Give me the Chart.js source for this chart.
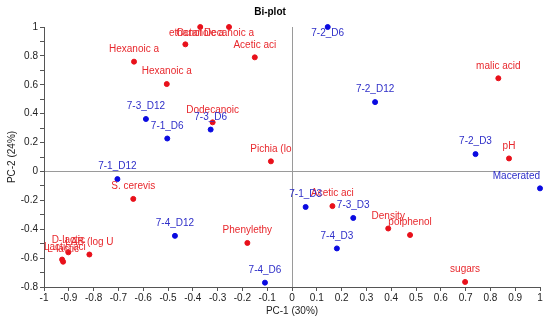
<!DOCTYPE html>
<html><head><meta charset="utf-8">
<script src="https://cdn.jsdelivr.net/npm/chart.js@4"></script>
<style>html,body{margin:0;padding:0;background:#fff}#c{display:block}</style>
</head><body>
<canvas id="c" width="550" height="321"></canvas>
<script>
// Variables (red)
const varLabels = ["Octanoic a","Decanoic a","ethanol","Hexanoic a","Hexanoic a","Acetic aci","Dodecanoic","Pichia (lo","malic acid","pH","S. cerevis","Phenylethy","D-lactic","LAB (log U","Lactic aci","L-lactic","Acetic aci","Density","polphenol","sugars"];
const varX = [-0.37,-0.254,-0.43,-0.637,-0.505,-0.15,-0.32,-0.085,0.832,0.875,-0.64,-0.18,-0.902,-0.817,-0.927,-0.923,0.163,0.388,0.476,0.698];
const varY = [1.0,1.0,0.88,0.76,0.605,0.79,0.34,0.07,0.645,0.09,-0.19,-0.495,-0.56,-0.575,-0.61,-0.625,-0.24,-0.395,-0.44,-0.765];
// Observations (blue)
const obsLabels = ["7-2_D6","7-2_D12","7-2_D3","7-3_D12","7-1_D6","7-3_D6","7-1_D12","7-4_D12","7-4_D6","7-1_D3","7-3_D3","7-4_D3","Macerated"];
const obsX = [0.144,0.335,0.74,-0.589,-0.503,-0.328,-0.704,-0.472,-0.109,0.055,0.247,0.181,1.0];
const obsY = [1.0,0.48,0.12,0.363,0.228,0.29,-0.053,-0.446,-0.77,-0.246,-0.322,-0.533,-0.117];

const toPts = (xs, ys) => xs.map((x, i) => ({x, y: ys[i]}));

const labelPlugin = {
  id: 'pointLabels',
  afterDatasetsDraw(chart) {
    const ctx = chart.ctx, a = chart.chartArea;
    ctx.save();
    ctx.font = '10px "Liberation Sans", Arial, sans-serif';
    ctx.textAlign = 'center';
    ctx.textBaseline = 'middle';
    chart.data.datasets.forEach((ds, di) => {
      const meta = chart.getDatasetMeta(di);
      ctx.fillStyle = ds.textColor;
      meta.data.forEach((el, i) => {
        const t = ds.names[i];
        const w = ctx.measureText(t).width;
        let x = Math.min(Math.max(el.x, a.left + w / 2), a.right - w / 2);
        let y = Math.max(el.y - 12.5, a.top + 6);
        ctx.fillText(t, x, y);
      });
    });
    ctx.restore();
  }
};

const fontF = '"Liberation Sans", Arial, sans-serif';
new Chart(document.getElementById('c'), {
  type: 'scatter',
  data: {
    datasets: [
      {names: varLabels, textColor: '#e8282d', data: toPts(varX, varY), backgroundColor: '#e8101a', borderColor: '#e8101a', pointRadius: 2.5, clip: false},
      {names: obsLabels, textColor: '#2e2ec8', data: toPts(obsX, obsY), backgroundColor: '#0a0ae0', borderColor: '#0a0ae0', pointRadius: 2.5, clip: false}
    ]
  },
  options: {
    responsive: false,
    animation: false,
    layout: {padding: {left: 0, right: 10, top: 0, bottom: 0}},
    plugins: {
      legend: {display: false},
      tooltip: {enabled: false},
      title: {display: true, text: 'Bi-plot', color: '#000', font: {family: fontF, size: 10, weight: 'bold'}, padding: {top: 6, bottom: 9}}
    },
    scales: {
      x: {
        type: 'linear', min: -1, max: 1,
        afterFit(s) { s.height = 34; },
        ticks: {stepSize: 0.1, color: '#222', font: {family: fontF, size: 10}, padding: 1, maxRotation: 0, autoSkip: false,
          callback: v => String(Math.round(v * 10) / 10)},
        grid: {drawOnChartArea: true, drawTicks: true, tickLength: 4,
          color: c => (c.tick && Math.abs(c.tick.value) < 1e-9) ? '#9a9a9a' : 'rgba(0,0,0,0)',
          tickColor: '#555'},
        border: {display: true, color: '#555'},
        title: {display: true, text: 'PC-1 (30%)', color: '#222', font: {family: fontF, size: 10}, padding: {top: 0, bottom: 4}}
      },
      y: {
        type: 'linear', min: -0.8, max: 1,
        afterFit(s) { s.width = 44; },
        ticks: {stepSize: 0.1, color: '#222', font: {family: fontF, size: 10}, padding: 2, autoSkip: false,
          callback: v => { const k = Math.round(v * 10); return k % 2 === 0 ? String(k / 10) : ''; }},
        grid: {drawOnChartArea: true, drawTicks: true, tickLength: 4,
          color: c => (c.tick && Math.abs(c.tick.value) < 1e-9) ? '#9a9a9a' : 'rgba(0,0,0,0)',
          tickColor: '#555'},
        border: {display: true, color: '#555'},
        title: {display: true, text: 'PC-2 (24%)', color: '#222', font: {family: fontF, size: 10}, padding: {top: 6, bottom: 0}}
      }
    }
  },
  plugins: [labelPlugin]
});
</script>
</body></html>
